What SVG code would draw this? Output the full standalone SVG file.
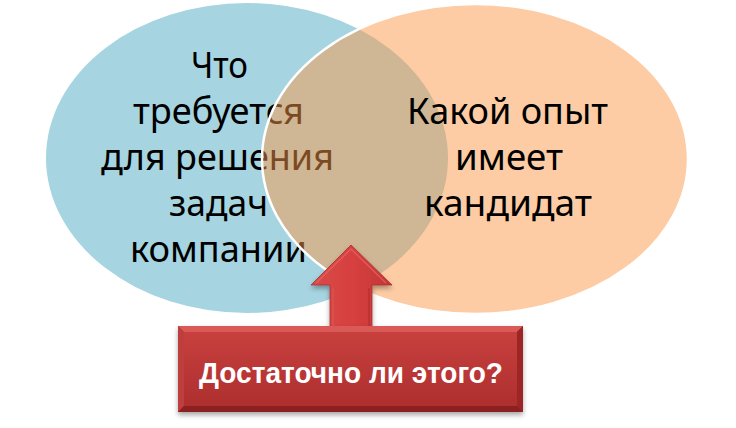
<svg xmlns="http://www.w3.org/2000/svg" width="736" height="428" viewBox="0 0 736 428">
  <defs>
    <style>
      .lbl { font-family: "Noto Sans", "Open Sans", "DejaVu Sans", sans-serif; font-size: 37px; fill: #000000; }
      .btn { font-family: "Liberation Sans", Arial, sans-serif; font-size: 30px; font-weight: bold; fill: #FFFFFF; }
    </style>
    <linearGradient id="faceGrad" x1="0" y1="0" x2="0" y2="1">
      <stop offset="0" stop-color="#C7403E"/>
      <stop offset="1" stop-color="#AE2F2F"/>
    </linearGradient>
    <linearGradient id="arrowGrad" x1="0" y1="0" x2="1" y2="0">
      <stop offset="0" stop-color="#D84A49"/>
      <stop offset="0.5" stop-color="#D7403F"/>
      <stop offset="1" stop-color="#C23636"/>
    </linearGradient>
    <filter id="shadow" x="-10%" y="-10%" width="120%" height="130%">
      <feDropShadow dx="0" dy="3" stdDeviation="2.5" flood-color="#000000" flood-opacity="0.35"/>
    </filter>
  </defs>

  <rect width="736" height="428" fill="#FFFFFF"/>

  <g id="node-requirements">
    <ellipse cx="247" cy="158" rx="201" ry="155" fill="#A6D4E1"/>
    <text class="lbl" x="191" y="78" textLength="57" lengthAdjust="spacingAndGlyphs">Что</text>
    <text class="lbl" x="133" y="124" textLength="171" lengthAdjust="spacingAndGlyphs">требуется</text>
    <text class="lbl" x="101" y="170" textLength="233" lengthAdjust="spacingAndGlyphs">для решения</text>
    <text class="lbl" x="169" y="216" textLength="99" lengthAdjust="spacingAndGlyphs">задач</text>
    <text class="lbl" x="130" y="262" textLength="177" lengthAdjust="spacingAndGlyphs">компании</text>
  </g>

  <g id="node-experience">
    <ellipse cx="475" cy="159" rx="213" ry="155" fill="#FB9745" fill-opacity="0.49"/>
    <ellipse cx="475" cy="159" rx="213" ry="155" fill="none" stroke="#FFFFFF" stroke-width="2.5"/>
    <text class="lbl" x="407" y="124" textLength="201" lengthAdjust="spacingAndGlyphs">Какой опыт</text>
    <text class="lbl" x="455" y="170" textLength="108" lengthAdjust="spacingAndGlyphs">имеет</text>
    <text class="lbl" x="424" y="216" textLength="168" lengthAdjust="spacingAndGlyphs">кандидат</text>
  </g>

  <g id="connectors">
    <g filter="url(#shadow)">
      <polygon points="351,245 392,285 372,285 372,328 330,328 330,285 311,285" fill="url(#arrowGrad)" stroke="#A93030" stroke-width="0.8"/>
    </g>
    <polyline points="316,283 351,249 386,283" fill="none" stroke="#E56464" stroke-width="1.5" stroke-opacity="0.7"/>
    <line x1="333" y1="288" x2="333" y2="326" stroke="#E05A5A" stroke-width="1.5" stroke-opacity="0.6"/>
    <line x1="369" y1="288" x2="369" y2="326" stroke="#A52C2C" stroke-width="1.5" stroke-opacity="0.6"/>
  </g>

  <g id="node-question">
    <rect x="178" y="326" width="345" height="86" fill="#A82B2B" filter="url(#shadow)"/>
    <polygon points="178,326 523,326 517,332 184,332" fill="#DA5A58"/>
    <polygon points="178,326 184,332 184,406 178,412" fill="#BD3E3D"/>
    <polygon points="523,326 517,332 517,406 523,412" fill="#9C2626"/>
    <polygon points="178,412 184,406 517,406 523,412" fill="#8C2020"/>
    <rect x="184" y="332" width="333" height="74" fill="url(#faceGrad)"/>
    <text class="btn" x="199" y="383" textLength="304" lengthAdjust="spacingAndGlyphs">Достаточно ли этого?</text>
  </g>
</svg>
